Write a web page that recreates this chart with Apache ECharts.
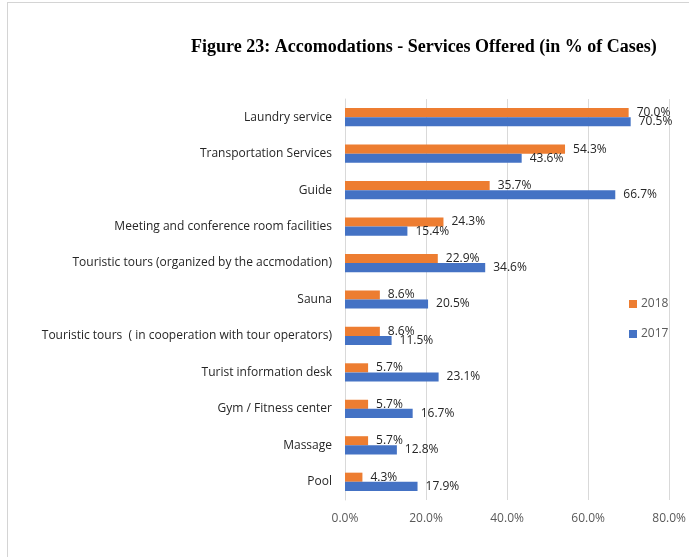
<!DOCTYPE html>
<html>
<head>
<meta charset="utf-8">
<script src="https://cdn.jsdelivr.net/npm/echarts@6/dist/echarts.min.js"></script>
<style>
  html, body { margin: 0; padding: 0; background: #fff; overflow: hidden; width: 689px; height: 557px; }
  #frame { position: absolute; left: 7px; top: 2px; width: 690px; height: 560px; border-left: 1px solid #d4d4d4; border-top: 1px solid #d4d4d4; }
  #chart { position: absolute; left: 0; top: 0; width: 689px; height: 557px; }
</style>
</head>
<body>
<div id="frame"></div>
<div id="chart"></div>
<script>
// Данные
const categories = [
  'Laundry service',
  'Transportation Services',
  'Guide',
  'Meeting and conference room facilities',
  'Touristic tours (organized by the accmodation)',
  'Sauna',
  'Touristic tours  ( in cooperation with tour operators)',
  'Turist information desk',
  'Gym / Fitness center',
  'Massage',
  'Pool'
]
const values2018 = [70.0, 54.3, 35.7, 24.3, 22.9, 8.6, 8.6, 5.7, 5.7, 5.7, 4.3]
const values2017 = [70.5, 43.6, 66.7, 15.4, 34.6, 20.5, 11.5, 23.1, 16.7, 12.8, 17.9]
const xTicks = [0, 20, 40, 60, 80]

const font = '"Open Sans", "Noto Sans", sans-serif'

const labelStyle = {
  show: true,
  position: 'right',
  distance: 8,
  color: '#262626',
  fontSize: 12,
  fontFamily: font,
  formatter: (p) => p.value.toFixed(1) + '%'
}

const chart = echarts.init(document.getElementById('chart'), null, { renderer: 'canvas' })

chart.setOption({
  animation: false,
  backgroundColor: 'transparent',
  title: {
    text: 'Figure 23: Accomodations - Services Offered (in % of Cases)',
    left: 186,
    top: 33,
    textStyle: {
      fontFamily: '"Liberation Serif", "Times New Roman", serif',
      fontWeight: 'bold',
      fontSize: 18,
      color: '#000'
    }
  },
  legend: {
    orient: 'vertical',
    left: 624,
    top: 293,
    itemWidth: 8,
    itemHeight: 8,
    itemGap: 18,
    icon: 'rect',
    data: ['2018', '2017'],
    textStyle: { color: '#595959', fontSize: 12, fontFamily: font, padding: [0, 0, 0, -1] }
  },
  grid: {
    left: 345,
    right: 15,
    top: 99,
    bottom: 57,
    containLabel: false
  },
  xAxis: {
    type: 'value',
    min: xTicks[0],
    max: xTicks[xTicks.length - 1],
    interval: 20,
    axisLine: { show: false },
    axisTick: { show: false },
    axisLabel: {
      color: '#595959',
      fontSize: 12,
      fontFamily: font,
      margin: 13,
      formatter: (v) => v.toFixed(1) + '%'
    },
    splitLine: { show: true, lineStyle: { color: '#d9d9d9', width: 1 } }
  },
  yAxis: {
    type: 'category',
    inverse: true,
    data: categories,
    axisLine: { show: true, lineStyle: { color: '#d9d9d9' } },
    axisTick: { show: false },
    axisLabel: {
      color: '#262626',
      fontSize: 12,
      fontFamily: font,
      margin: 13
    }
  },
  series: [
    {
      name: '2018',
      type: 'bar',
      data: values2018,
      barGap: '0%',
      barCategoryGap: '50%',
      itemStyle: { color: '#ED7D31' },
      label: labelStyle
    },
    {
      name: '2017',
      type: 'bar',
      data: values2017,
      barGap: '0%',
      barCategoryGap: '50%',
      itemStyle: { color: '#4472C4' },
      label: labelStyle
    }
  ]
})
</script>
</body>
</html>
